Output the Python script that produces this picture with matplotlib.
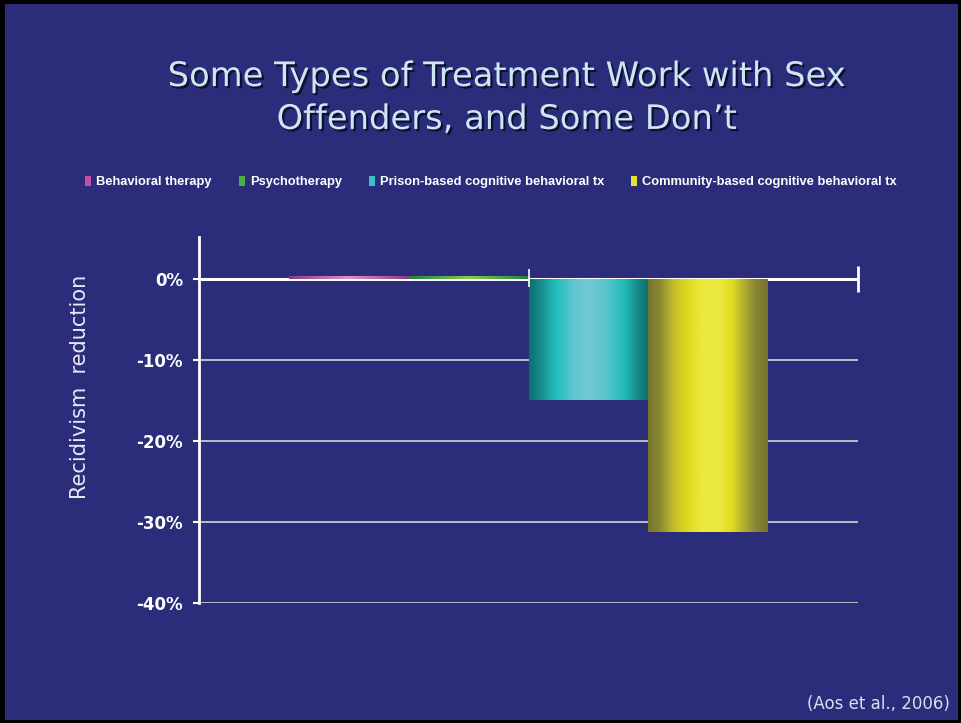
import numpy as np
import matplotlib
matplotlib.use("Agg")
import matplotlib.pyplot as plt
import matplotlib.patheffects as pe
from matplotlib.colors import LinearSegmentedColormap
from matplotlib.patches import Patch, Rectangle

# data (recidivism reduction, %)
programs = ["Behavioral therapy", "Psychotherapy",
            "Prison-based cognitive behavioral tx",
            "Community-based cognitive behavioral tx"]
values = [0.4, 0.4, -14.9, -31.2]
yticks = [0, -10, -20, -30, -40]
ytick_labels = ["0%", "-10%", "-20%", "-30%", "-40%"]

# horizontal gradient stops per bar (left edge -> right edge)
gradients = [
    [(0, "#8a3a80"), (0.5, "#e090d0"), (1, "#8a3a80")],
    [(0, "#20803c"), (0.5, "#80d050"), (1, "#20803c")],
    [(0, "#077070"), (0.1, "#1a8d8c"), (0.22, "#20bcba"), (0.38, "#62c7d0"),
     (0.5, "#72c9d4"), (0.64, "#5cc5cf"), (0.8, "#1ebab8"), (0.9, "#1a8d8c"),
     (1, "#077070")],
    [(0, "#76732f"), (0.1, "#8c8a30"), (0.22, "#c4c02a"), (0.32, "#dcd81e"),
     (0.45, "#ebe83e"), (0.6, "#ece840"), (0.7, "#e0dc20"), (0.8, "#b2ae30"),
     (0.9, "#878435"), (1, "#76732f")],
]
legend_colors = ["#c050a8", "#4cb040", "#3cc0c8", "#e4e03c"]

bg = "#2b2d7b"
fig = plt.figure(figsize=(9.61, 7.23), dpi=100, facecolor="black")
fig.patches.append(Rectangle((5 / 961, 3 / 723), 953 / 961, 716 / 723,
                             transform=fig.transFigure, facecolor=bg,
                             edgecolor="none", zorder=-1))

ax = fig.add_axes([199 / 961, 1 - 603 / 723, 659 / 961, 366 / 723])
ax.set_facecolor("none")

width = 0.182
xs = [(i - 1.5) * width for i in range(len(values))]
bars = ax.bar(xs, values, width=width, color="none", edgecolor="none", zorder=3)
for bar, stops in zip(bars, gradients):
    cmap = LinearSegmentedColormap.from_list("g", stops)
    grad = np.linspace(0, 1, 256).reshape(1, -1)
    x0, y0 = bar.get_x(), bar.get_y()
    w, h = bar.get_width(), bar.get_height()
    im = ax.imshow(grad, cmap=cmap, aspect="auto", zorder=3,
                   extent=[x0, x0 + w, min(y0, y0 + h), max(y0, y0 + h)])
    im.set_clip_path(bar)

# gridlines
for y in yticks[1:]:
    ax.axhline(y, color="#c8c8c8", lw=1.3, zorder=1)
ax.axhline(0, color="white", lw=2.2, zorder=2)
ax.vlines(0.0, -1.0, 1.2, color="white", lw=1.2, zorder=4, clip_on=False)
ax.vlines(0.5, -1.6, 1.6, color="white", lw=2, zorder=4, clip_on=False)

ax.set_xlim(-0.5, 0.5)
ax.set_ylim(-40, 5.2)
ax.set_xticks([])
ax.set_yticks(yticks)
ax.set_yticklabels(ytick_labels, color="white", fontsize=12, fontweight="bold")
ax.tick_params(axis="y", length=4.5, width=1.5, color="white", pad=7)
for s in ["top", "right", "bottom"]:
    ax.spines[s].set_visible(False)
ax.spines["left"].set_color("white")
ax.spines["left"].set_linewidth(2)

fig.text(80 / 961, 1 - 387 / 723, "Recidivism  reduction", rotation=90,
         ha="center", va="center", color="#e8e8f4", fontsize=15)

# title with drop shadow
title = "Some Types of Treatment Work with Sex\nOffenders, and Some Don\u2019t"
fig.text(507 / 961, 1 - 98 / 723, title, ha="center", va="center",
         fontsize=24.3, color="#cde6f4", linespacing=1.38,
         path_effects=[pe.withSimplePatchShadow(offset=(1.6, -1.6),
                                                shadow_rgbFace="#0c0c28",
                                                alpha=0.9)])

handles = [Patch(facecolor=c, edgecolor="none") for c in legend_colors]
leg = fig.legend(handles, programs, loc="center", ncol=4,
                 bbox_to_anchor=(491 / 961, 1 - 182 / 723), frameon=False,
                 handlelength=0.45, handleheight=0.9, handletextpad=0.4,
                 columnspacing=2.1,
                 prop={"size": 9.3, "weight": "bold", "family": "Liberation Sans"})
for t in leg.get_texts():
    t.set_color("white")

fig.text(950 / 961, 1 - 704 / 723, "(Aos et al., 2006)", ha="right",
         va="center", fontsize=12, color="#d8e0f0")

fig.savefig("out.png", dpi=100, facecolor=fig.get_facecolor())
